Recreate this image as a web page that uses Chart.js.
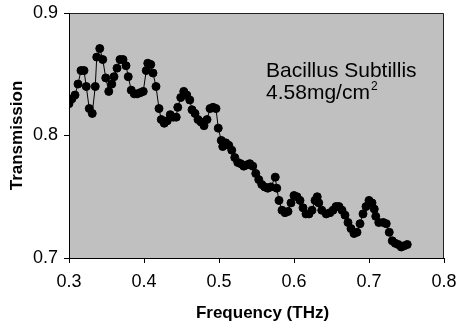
<!DOCTYPE html>
<html><head><meta charset="utf-8">
<script src="https://cdn.jsdelivr.net/npm/chart.js@4.4.0/dist/chart.umd.min.js"></script>
<style>html,body{margin:0;padding:0;background:#fff;}canvas{display:block;}</style>
</head><body>
<canvas id="c" width="459" height="334"></canvas>
<script>
const frequency = [
  0.300,0.304,0.308,0.312,0.316,0.320,0.323,0.327,0.331,0.335,
  0.337,0.341,0.345,0.349,0.353,0.357,0.360,0.364,0.368,0.372,
  0.376,0.379,0.383,0.387,0.391,0.395,0.399,0.403,0.405,0.409,
  0.412,0.416,0.420,0.423,0.427,0.431,0.435,0.439,0.443,0.445,
  0.449,0.453,0.457,0.461,0.464,0.468,0.472,0.476,0.480,0.484,
  0.488,0.492,0.496,0.499,0.503,0.505,0.509,0.513,0.517,0.521,
  0.525,0.529,0.533,0.537,0.541,0.545,0.549,0.553,0.557,0.561,
  0.565,0.569,0.575,0.577,0.580,0.584,0.588,0.592,0.596,0.600,
  0.604,0.608,0.612,0.616,0.620,0.624,0.628,0.631,0.633,0.637,
  0.643,0.648,0.652,0.656,0.660,0.664,0.668,0.672,0.676,0.680,
  0.684,0.688,0.692,0.696,0.700,0.704,0.707,0.709,0.713,0.719,
  0.723,0.727,0.731,0.735,0.739,0.743,0.747,0.751
];
const transmission = [
  0.826,0.830,0.833,0.842,0.853,0.853,0.840,0.822,0.818,0.840,
  0.864,0.871,0.862,0.847,0.836,0.842,0.848,0.855,0.862,0.862,
  0.857,0.848,0.837,0.834,0.834,0.835,0.836,0.853,0.859,0.858,
  0.851,0.840,0.822,0.813,0.810,0.812,0.817,0.815,0.815,0.823,
  0.831,0.836,0.833,0.829,0.821,0.818,0.813,0.811,0.808,0.813,
  0.822,0.823,0.822,0.806,0.796,0.791,0.794,0.792,0.788,0.782,
  0.778,0.777,0.775,0.776,0.777,0.775,0.769,0.764,0.760,0.758,
  0.757,0.758,0.766,0.757,0.747,0.739,0.737,0.738,0.745,0.751,
  0.750,0.747,0.741,0.736,0.736,0.739,0.747,0.750,0.745,0.739,
  0.736,0.737,0.739,0.742,0.742,0.739,0.735,0.729,0.724,0.720,
  0.721,0.728,0.736,0.742,0.747,0.745,0.740,0.734,0.729,0.729,
  0.728,0.721,0.714,0.712,0.711,0.709,0.710,0.711
];
const xTicks = [0.3, 0.4, 0.5, 0.6, 0.7, 0.8];
const yTicks = [0.7, 0.8, 0.9];
const xTitle = 'Frequency (THz)';
const yTitle = 'Transmission';
const noteLine1 = 'Bacillus Subtillis';
const noteLine2 = '4.58mg/cm';
const noteSup = '2';
const noteAnchor = {x: 0.5627, y1: 0.8478, y2: 0.8298};

const FONT = "'Liberation Sans', Arial, sans-serif";

const plotBg = {
  id: 'plotBg',
  beforeDraw(chart) {
    const {ctx, chartArea: a} = chart;
    ctx.save();
    ctx.fillStyle = '#ffffff';
    ctx.fillRect(0, 0, chart.width, chart.height);
    ctx.fillStyle = '#c0c0c0';
    ctx.fillRect(a.left, a.top, a.right - a.left, a.bottom - a.top);
    ctx.strokeStyle = '#202020';
    ctx.lineWidth = 1;
    ctx.beginPath();
    ctx.moveTo(a.left, a.top + 0.5);
    ctx.lineTo(a.right - 0.5, a.top + 0.5);
    ctx.lineTo(a.right - 0.5, a.bottom);
    ctx.stroke();
    ctx.restore();
  }
};

const textLayer = {
  id: 'textLayer',
  afterDraw(chart) {
    const {ctx, chartArea: a} = chart;
    const xs = chart.scales.x, ys = chart.scales.y;
    ctx.save();
    ctx.fillStyle = '#000';
    // x axis title
    ctx.font = "bold 17px " + FONT;
    ctx.textAlign = 'center';
    ctx.textBaseline = 'middle';
    ctx.fillText(xTitle, (a.left + a.right) / 2 + 6, 313);
    // annotation
    const nx = xs.getPixelForValue(noteAnchor.x);
    ctx.textAlign = 'left';
    ctx.textBaseline = 'alphabetic';
    ctx.font = "21px " + FONT;
    ctx.fillText(noteLine1, nx, ys.getPixelForValue(noteAnchor.y1));
    const y2 = ys.getPixelForValue(noteAnchor.y2);
    ctx.fillText(noteLine2, nx, y2);
    const w2 = ctx.measureText(noteLine2).width;
    ctx.font = "12px " + FONT;
    ctx.fillText(noteSup, nx + w2 + 1, y2 - 9);
    ctx.restore();
  }
};

new Chart(document.getElementById('c'), {
  type: 'scatter',
  data: {
    datasets: [{
      data: frequency.map((f, i) => ({x: f, y: transmission[i]})),
      showLine: true,
      borderColor: '#000',
      borderWidth: 1,
      backgroundColor: '#000',
      pointBackgroundColor: '#000',
      pointBorderColor: '#000',
      pointRadius: 4,
      pointBorderWidth: 1,
      tension: 0
    }]
  },
  options: {
    responsive: false,
    animation: false,
    devicePixelRatio: 1,
    layout: {padding: {left: 0, right: 15, top: 13, bottom: 0}},
    plugins: {legend: {display: false}, tooltip: {enabled: false}},
    scales: {
      x: {
        type: 'linear', min: 0.3, max: 0.8,
        afterBuildTicks: s => { s.ticks = xTicks.map(v => ({value: v})); },
        afterFit: s => { s.height = 76; s.paddingLeft = 0; s.paddingRight = 0; },
        ticks: {color: '#000', font: {family: FONT, size: 18}, padding: 8, maxRotation: 0,
                callback: v => v.toFixed(1)},
        grid: {drawOnChartArea: false, drawTicks: true, tickLength: 5, color: '#000'},
        border: {color: '#000', width: 1},
        title: {display: false}
      },
      y: {
        type: 'linear', min: 0.7, max: 0.9,
        afterBuildTicks: s => { s.ticks = yTicks.map(v => ({value: v})); },
        afterFit: s => { s.width = 69; s.paddingTop = 0; s.paddingBottom = 0; },
        ticks: {color: '#000', font: {family: FONT, size: 18}, padding: 6,
                callback: v => v.toFixed(1)},
        grid: {drawOnChartArea: false, drawTicks: true, tickLength: 5, color: '#000'},
        border: {color: '#000', width: 1},
        title: {display: true, text: yTitle, color: '#000',
                font: {family: FONT, size: 17, weight: 'bold'}, padding: {top: 7, bottom: 0}}
      }
    }
  },
  plugins: [plotBg, textLayer]
});
</script>
</body></html>
